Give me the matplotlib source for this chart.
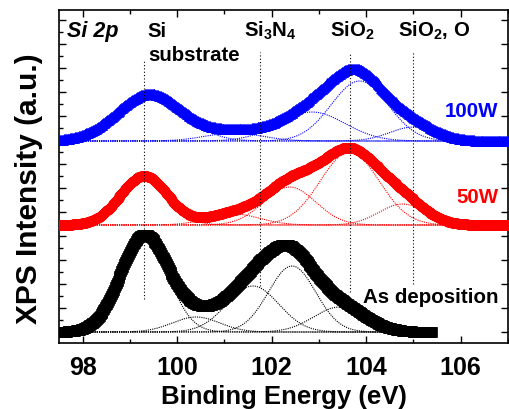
import numpy as np
import matplotlib.pyplot as plt
from matplotlib.ticker import MultipleLocator

plt.rcParams['font.family'] = ['Liberation Sans', 'DejaVu Sans']
plt.rcParams['font.weight'] = 'bold'
plt.rcParams['mathtext.default'] = 'regular'

# fitted Si 2p components: centre (eV), height, sigma (eV)
asdep_centers = [99.3, 100.4, 101.6, 102.43, 103.44]
asdep_heights = [96, 15, 46, 66, 25]
asdep_sigmas = [0.5, 0.5, 0.55, 0.5, 0.55]

w50_centers = [99.3, 101.2, 102.38, 103.65, 104.77]
w50_heights = [49, 11, 38, 73, 21]
w50_sigmas = [0.5, 0.55, 0.55, 0.62, 0.5]

w100_centers = [99.42, 101.2, 102.85, 103.86, 105.0]
w100_heights = [47, 8, 29, 60, 14]
w100_sigmas = [0.7, 0.6, 0.7, 0.6, 0.5]

# vertical offsets of each spectrum and energy range
offsets = [11, 118, 202]
x_ends = [105.4, 107.0, 107.0]
names = ['As deposition', '50W', '100W']
colors = ['black', 'red', 'blue']
markers = ['s', 'o', '^']

# reference binding energies
ref_pos = [99.3, 101.75, 103.65, 105.0]
ref_top = [283, 291, 291, 291]
ref_bottom = [44, 57, 51, 59]


def gauss(x, c, h, s):
    return h * np.exp(-0.5 * ((x - c) / s) ** 2)


fig = plt.figure(figsize=(5.09, 4.10), dpi=100)
ax = fig.add_axes([59 / 509, 1 - 344 / 410, 449 / 509, 333 / 410])

fits = [(asdep_centers, asdep_heights, asdep_sigmas),
        (w50_centers, w50_heights, w50_sigmas),
        (w100_centers, w100_heights, w100_sigmas)]

for (cs, hs, ss), off, xe, col, mk in zip(fits, offsets, x_ends, colors, markers):
    x = np.arange(97.5, xe + 0.001, 0.02)
    total = np.zeros_like(x)
    for c, h, s in zip(cs, hs, ss):
        comp = gauss(x, c, h, s)
        total += comp
        ax.plot(x, comp + off, color=col, lw=0.8, ls=(0, (1, 1)), zorder=2)
    ax.plot(x, total + off, color=col, marker=mk, ms=7, ls='-', lw=1,
            markeredgewidth=0.5, zorder=3)

for xp, t, b in zip(ref_pos, ref_top, ref_bottom):
    ax.plot([xp, xp], [b, t], color='black', lw=0.8, ls=(0, (1, 2)), zorder=4)

ax.set_xlim(97.5, 107)
ax.set_ylim(0, 333)
ax.xaxis.set_major_locator(MultipleLocator(2))
ax.xaxis.set_minor_locator(MultipleLocator(1))
ax.set_yticks(np.arange(11, 333, 24))
ax.set_yticks(np.arange(23, 333, 24), minor=True)
ax.set_yticklabels([])
ax.tick_params(which='both', direction='in', top=True, right=True, width=1)
ax.tick_params(which='major', length=5, labelsize=18, pad=9)
ax.tick_params(which='minor', length=3)
ax.tick_params(axis='y', which='minor', right=False)
for sp in ax.spines.values():
    sp.set_linewidth(1.2)

ax.set_xlabel('Binding Energy (eV)', fontsize=18.5, fontweight='bold', labelpad=3)
ax.set_ylabel('XPS Intensity (a.u.)', fontsize=21.5, fontweight='bold')
ax.yaxis.set_label_coords(-0.035, 0.465)

ax.text(97.67, 307, 'Si 2p', fontsize=15.5, fontstyle='italic', fontweight='bold')
ax.text(99.38, 307, 'Si', fontsize=14.7)
ax.text(99.38, 283, 'substrate', fontsize=14.7)
ax.text(101.42, 307, 'Si$_3$N$_4$', fontsize=14.7)
ax.text(103.23, 307, 'SiO$_2$', fontsize=14.7)
ax.text(104.67, 307, 'SiO$_2$, O', fontsize=14.7)

label_y = [41, 141, 227]
for name, col, ly in zip(names, colors, label_y):
    ax.text(106.8, ly, name, color=col, fontsize=14.8, ha='right')

fig.savefig('out.png', dpi=100)
